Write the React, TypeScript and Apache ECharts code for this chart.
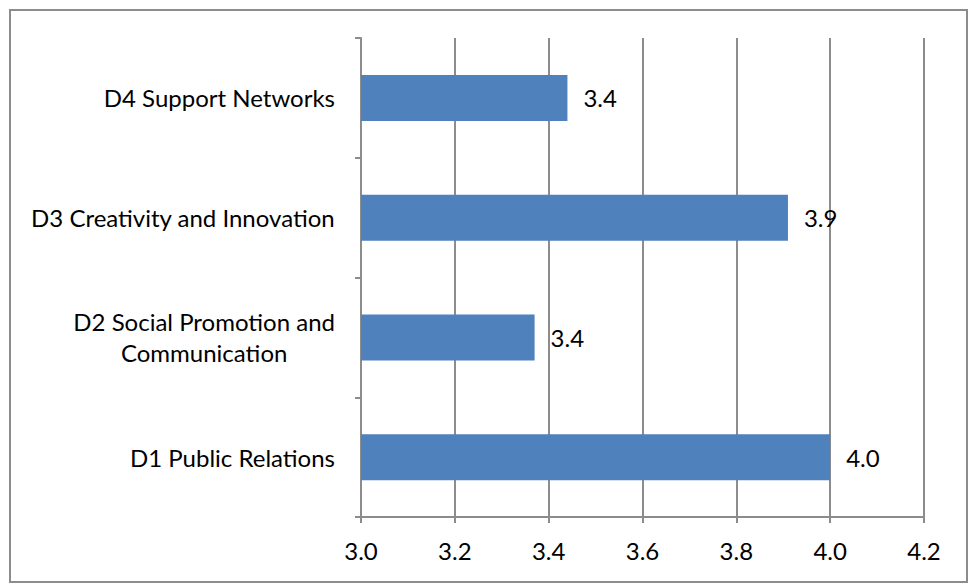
import React, { useEffect, useRef } from "react";
import * as echarts from "echarts";

const categories = [
  "D1 Public Relations",
  "D2 Social Promotion and\nCommunication",
  "D3 Creativity and Innovation",
  "D4 Support Networks",
];
const values = [4.0, 3.37, 3.91, 3.44];
const xMin = 3.0;
const xMax = 4.2;
const xStep = 0.2;

const FONT = "Lato";
const FS = 24;

export default function App() {
  const ref = useRef<HTMLDivElement>(null);
  useEffect(() => {
    if (!ref.current) return;
    const chart = echarts.init(ref.current, null, { renderer: "svg" });
    chart.setOption({
      animation: false,
      backgroundColor: "#ffffff",
      textStyle: { fontFamily: FONT },
      graphic: [
        {
          type: "rect",
          shape: { x: 10, y: 10, width: 957, height: 572 },
          style: { fill: "none", stroke: "#8c8c8c", lineWidth: 2 },
          silent: true,
        },
      ],
      grid: { left: 361, right: 46, top: 38, bottom: 68 },
      xAxis: {
        type: "value",
        min: xMin,
        max: xMax,
        interval: xStep,
        axisLine: { show: true, lineStyle: { color: "#8c8c8c", width: 2 } },
        axisTick: { show: true, length: 6, lineStyle: { color: "#8c8c8c", width: 2 } },
        splitLine: { show: true, lineStyle: { color: "#8c8c8c", width: 2 } },
        axisLabel: {
          color: "#000",
          fontSize: FS,
          fontFamily: FONT,
          margin: 21,
          formatter: (v: number) => v.toFixed(1),
        },
      },
      yAxis: {
        type: "category",
        data: categories,
        axisLine: { show: true, lineStyle: { color: "#8c8c8c", width: 2 } },
        axisTick: { show: true, length: 6, lineStyle: { color: "#8c8c8c", width: 2 } },
        splitLine: { show: false },
        axisLabel: {
          color: "#000",
          fontSize: FS,
          fontFamily: FONT,
          margin: 26,
          lineHeight: 31,
          formatter: (v: string) =>
            v
              .split("\n")
              .map((l) => `{c|${l}}`)
              .join("\n"),
          rich: {
            c: { align: "center", fontSize: FS, fontFamily: FONT, color: "#000", lineHeight: 31 },
          },
        },
      },
      series: [
        {
          type: "bar",
          data: values,
          barWidth: 46,
          itemStyle: { color: "#4F81BD" },
          label: {
            show: true,
            position: "right",
            distance: 16,
            color: "#000",
            fontSize: FS,
            fontFamily: FONT,
            formatter: (p: any) => Number(p.value).toFixed(1),
          },
        },
      ],
    });
    return () => chart.dispose();
  }, []);
  return (
    <div
      ref={ref}
      style={{ position: "absolute", left: 0, top: 0, width: 970, height: 585 }}
    />
  );
}
